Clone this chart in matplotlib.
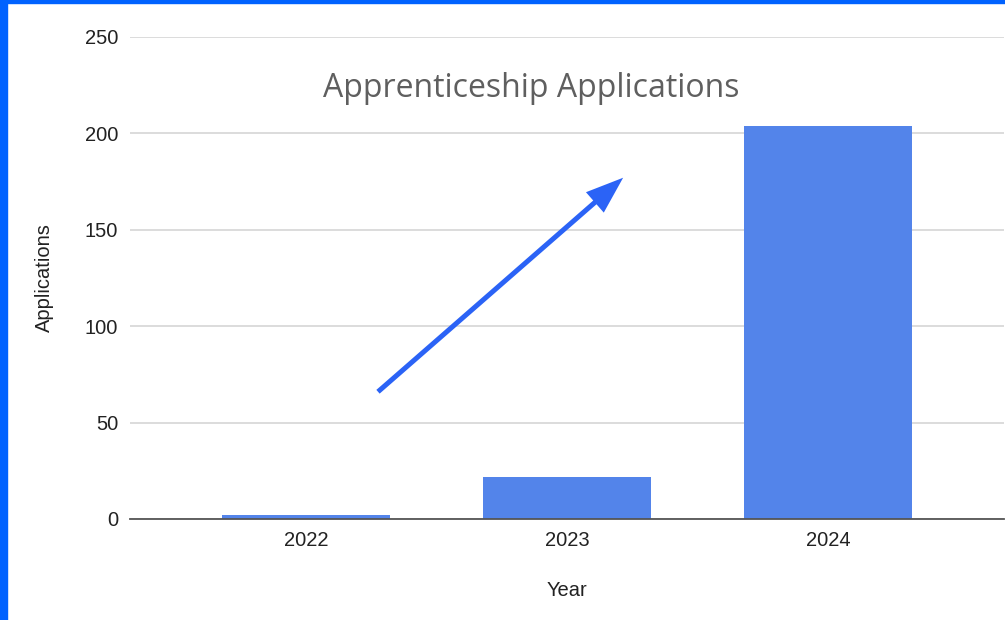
import matplotlib
matplotlib.use("Agg")
import matplotlib.pyplot as plt
from matplotlib.patches import Rectangle

years = ["2022", "2023", "2024"]
applications = [2, 22, 204]
y_ticks = [0, 50, 100, 150, 200, 250]

plt.rcParams['font.family'] = ['Liberation Sans', 'DejaVu Sans']

W, H = 1005, 620
fig = plt.figure(figsize=(W / 100, H / 100), dpi=100)
ax = fig.add_axes([130 / W, 1 - 519 / H, (1004 - 130) / W, (519 - 37) / H])

x = list(range(len(years)))
ax.bar(x, applications, width=0.645, color="#5384EA", zorder=3)

ax.set_xlim(-0.674, 2.674)
ax.set_ylim(0, 250)
ax.set_yticks(y_ticks)
ax.set_xticks(x)
ax.set_xticklabels(years)
ax.grid(axis="y", color="#d9d9d9", linewidth=1.3, zorder=0)
ax.set_axisbelow(True)
for s in ["top", "right", "left"]:
    ax.spines[s].set_visible(False)
ax.spines["bottom"].set_color("#555555")
ax.spines["bottom"].set_linewidth(1.3)
ax.spines["bottom"].set_zorder(4)
ax.tick_params(axis="both", length=0, labelsize=14.5, colors="#222222")
ax.tick_params(axis="x", pad=9)
ax.tick_params(axis="y", pad=8.6)

ax.set_xlabel("Year", fontsize=14.5, color="#222222", labelpad=22)
ax.set_ylabel("Applications", fontsize=14.5, color="#222222", labelpad=22)

ax.text(0.459, 0.893, "Apprenticeship Applications", transform=ax.transAxes,
        ha="center", va="center", fontsize=23, color="#5f5f5f",
        family=["Open Sans", "DejaVu Sans"])

# trend arrow annotation
ax.annotate("", xy=(1.215, 177), xytext=(0.276, 66),
            arrowprops=dict(width=3.6, headwidth=19.5, headlength=27,
                            facecolor="#2B63F6", edgecolor="none",
                            shrink=0),
            zorder=5)

# blue frame edges
fig.patches.append(Rectangle((0, 0), 7 / W, 1, transform=fig.transFigure,
                             color="#0062FF", zorder=10))
fig.patches.append(Rectangle((0, 1 - 3 / H), 1, 3 / H, transform=fig.transFigure,
                             color="#0062FF", zorder=10))

fig.savefig("out.png", dpi=100)
